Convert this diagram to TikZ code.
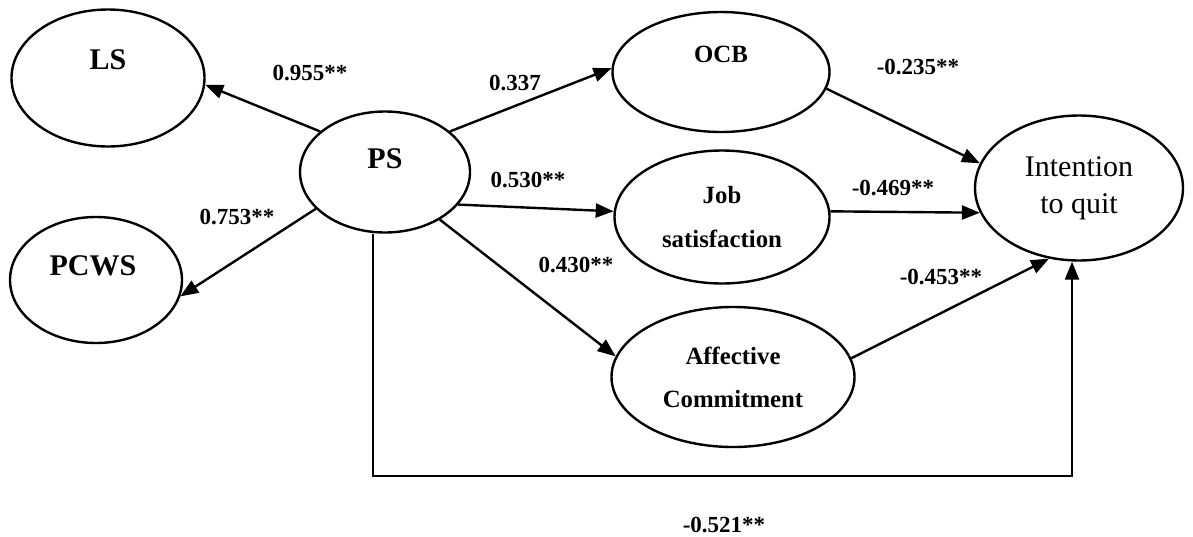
\documentclass[tikz,border=0pt]{standalone}
\usepackage{fontspec}
\setmainfont{Liberation Serif}
\usetikzlibrary{shapes.geometric,arrows.meta}
\begin{document}
\begin{tikzpicture}[x=0.5pt,y=-0.5pt, line width=1.2pt, >={Triangle[length=9pt,width=7pt]},
	lat/.style={draw, ellipse, inner sep=0pt},
	big/.style={font=\fontsize{15}{18}\selectfont\bfseries, inner sep=0pt},
	mid/.style={font=\fontsize{12.4}{22}\selectfont\bfseries, align=center},
	coef/.style={font=\fontsize{11.5}{14}\selectfont\bfseries, inner sep=0pt}]
	\useasboundingbox (0,0) rectangle (1193,536);
	% latent variables
	\node[lat, minimum width=96.5pt, minimum height=68.5pt] (LS) at (108,78) {};
	\node[lat, minimum width=85pt, minimum height=60.5pt] (PS) at (385,172) {};
	\node[lat, minimum width=86pt, minimum height=63pt] (PCWS) at (96,280) {};
	\node[lat, minimum width=108.5pt, minimum height=60pt] (OCB) at (721,72) {};
	\node[lat, mid, minimum width=107.5pt, minimum height=66.5pt] (JS) at (722,217) {Job\\satisfaction};
	\node[lat, mid, font=\fontsize{12.4}{21.5}\selectfont\bfseries, minimum width=121.5pt, minimum height=70pt] (AC) at (733,377) {Affective\\Commitment};
	\node[lat, align=center, font=\fontsize{15}{18.5}\selectfont, minimum width=104pt, minimum height=72.5pt] (Int) at (1079,188) {Intention\\to quit};
	\node[big] (LSt) at (108,60) {LS};
	\node[big] (PSt) at (385,159) {PS};
	\node[big] (PCWSt) at (93,266) {PCWS};
	\node[big, font=\fontsize{12.4}{15}\selectfont\bfseries] (OCBt) at (721,54) {OCB};
	% paths
	\draw[->] (PS.148) -- (LS.-4);
	\draw[->] (PS.208) -- (PCWS.-11);
	\draw[->] (PS.32) -- (OCB.178);
	\draw[->] (PS.-24) -- (JS.177);
	\draw[->] (PS.-41) -- (AC.170);
	\draw[->] (OCB.-9) -- (Int.166);
	\draw[->] (JS.3) -- (Int.194);
	\draw[->] (AC.9) -- (Int.247);
	\coordinate (bend) at (1072,476);
	\draw[->] ([xshift=-6pt]PS.south) |- (bend) -- (bend |- Int.south);
	% coefficients
	\node[coef] (c1) at (310,73) {0.955**};
	\node[coef] (c2) at (237,217) {0.753**};
	\node[coef] (c3) at (515,83) {0.337};
	\node[coef] (c4) at (528,180) {0.530**};
	\node[coef] (c5) at (576,265) {0.430**};
	\node[coef] (c6) at (918,67) {-0.235**};
	\node[coef] (c7) at (893,188) {-0.469**};
	\node[coef] (c8) at (941,277) {-0.453**};
	\node[coef] (c9) at (724,525) {-0.521**};
\end{tikzpicture}
\end{document}
